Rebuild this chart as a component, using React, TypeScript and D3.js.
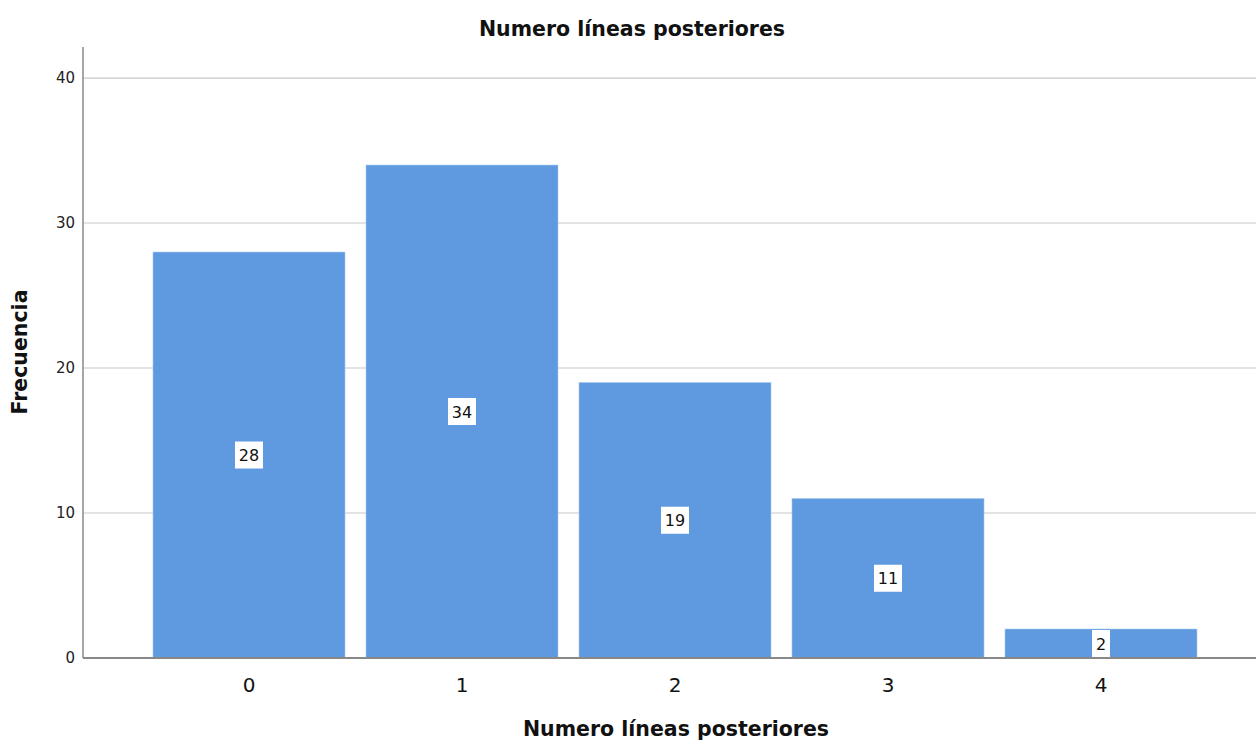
import React, { useEffect, useRef } from 'react';
import { axisLeft, scaleBand, scaleLinear, select } from 'd3';

const categories = ['0', '1', '2', '3', '4'];
const counts = [28, 34, 19, 11, 2];
const yTicks = [0, 10, 20, 30, 40];

const title = 'Numero líneas posteriores';
const xTitle = 'Numero líneas posteriores';
const yTitle = 'Frecuencia';

const W = 1256;
const H = 740;
const left = 83;
const top = 47;
const bottom = 658;
const barColor = '#5f9ae1';
const font = '"DejaVu Sans", sans-serif';

function LeftAxis({ scale }: { scale: any }) {
  const ref = useRef<SVGGElement>(null);
  useEffect(() => {
    if (!ref.current) return;
    select(ref.current)
      .call(axisLeft(scale).tickValues(yTicks).tickSize(0).tickPadding(8))
      .call((g) => {
        g.select('.domain').remove();
        g.selectAll('.tick text')
          .attr('font-size', 15)
          .attr('font-family', font)
          .attr('fill', '#222');
      });
  }, [scale]);
  return <g ref={ref} transform={`translate(${left},0)`} />;
}

export default function App() {
  const x = scaleBand<string>()
    .domain(categories)
    .range([142.5, 1207.5])
    .paddingInner(21 / 213)
    .paddingOuter(10.5 / 213);
  const y = scaleLinear().domain([0, 42.14]).range([bottom, top]);

  return (
    <svg
      width={W}
      height={H}
      style={{ position: 'absolute', left: 0, top: 0, background: '#fff' }}
    >
      <text
        x={632}
        y={36}
        textAnchor="middle"
        fontFamily={font}
        fontWeight="bold"
        fontSize={20.5}
        fill="#111"
      >
        {title}
      </text>

      {yTicks
        .filter((t) => t > 0)
        .map((t) => (
          <line
            key={`grid-${t}`}
            x1={left}
            x2={W}
            y1={y(t)}
            y2={y(t)}
            stroke="#c8c8c8"
            strokeWidth={1.2}
          />
        ))}

      {categories.map((c, i) => (
        <rect
          key={`bar-${c}`}
          x={x(c)}
          y={y(counts[i])}
          width={x.bandwidth()}
          height={bottom - y(counts[i])}
          fill={barColor}
          stroke="#a9c9ef"
          strokeWidth={0.6}
        />
      ))}

      {categories.map((c, i) => {
        const cx = (x(c) ?? 0) + x.bandwidth() / 2;
        const cy = y(counts[i] / 2);
        const label = String(counts[i]);
        const bw = label.length > 1 ? 28 : 18;
        const bh = Math.min(27, 2 * (bottom - cy));
        return (
          <g key={`lab-${c}`}>
            <rect x={cx - bw / 2} y={cy - bh / 2} width={bw} height={bh} fill="#fff" />
            <text
              x={cx}
              y={cy + 6}
              textAnchor="middle"
              fontFamily={font}
              fontSize={16}
              fill="#111"
            >
              {label}
            </text>
          </g>
        );
      })}

      <line x1={left} x2={left} y1={top} y2={bottom} stroke="#888" strokeWidth={1.5} />
      <line x1={left} x2={W} y1={bottom} y2={bottom} stroke="#888" strokeWidth={1.8} />

      <LeftAxis scale={y} />

      {categories.map((c) => (
        <text
          key={`xt-${c}`}
          x={(x(c) ?? 0) + x.bandwidth() / 2}
          y={692}
          textAnchor="middle"
          fontFamily={font}
          fontSize={20}
          fill="#111"
        >
          {c}
        </text>
      ))}

      <text
        x={676}
        y={736}
        textAnchor="middle"
        fontFamily={font}
        fontWeight="bold"
        fontSize={20.5}
        fill="#111"
      >
        {xTitle}
      </text>

      <text
        transform={`translate(27,352) rotate(-90)`}
        textAnchor="middle"
        fontFamily={font}
        fontWeight="bold"
        fontSize={20.5}
        fill="#111"
      >
        {yTitle}
      </text>
    </svg>
  );
}
